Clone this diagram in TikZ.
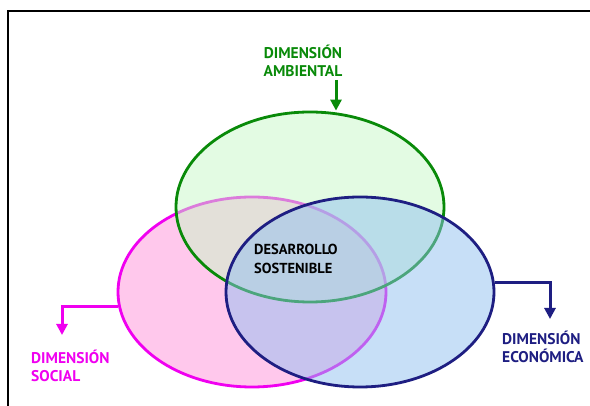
\documentclass[tikz,border=0pt]{standalone}
\usepackage{fontspec}
\setmainfont{PT Sans}
\usetikzlibrary{shapes.geometric,arrows.meta}
\definecolor{gfill}{HTML}{C8F8C8}
\definecolor{pfill}{HTML}{FFC8EC}
\definecolor{bfill}{HTML}{90C0F0}
\definecolor{gline}{HTML}{098A09}
\definecolor{pline}{HTML}{F000F0}
\definecolor{bline}{HTML}{1E1E82}
\tikzset{
  venn/.style={ellipse, minimum width=268pt, minimum height=190pt, inner sep=0pt, line width=2.8pt},
  lbl/.style={font=\bfseries\fontsize{15.5}{18.5}\selectfont, inner sep=0pt},
  conn/.style={line width=3pt, -{Triangle[length=11pt,width=11pt]}}
}
\begin{document}
\begin{tikzpicture}[x=1pt,y=-1pt]
\useasboundingbox (0,0) rectangle (590,406);
\fill[white] (0,0) rectangle (590,406);
\begin{scope}
\clip (0,0) rectangle (590,406);
\draw[line width=2pt] (8,11) rectangle (610,430);
\end{scope}
% ellipses
\node[venn, draw=pline, fill=pfill] (soc) at (252,292) {};
\node[venn, draw=gline, fill=gfill, fill opacity=0.5] (amb) at (310,207) {};
\node[venn, draw=bline, fill=bfill, fill opacity=0.5] (eco) at (360,292) {};
% labels
\node[lbl, text=gline, align=center] (tamb) at (303,61) {DIMENSIÓN\\AMBIENTAL};
\node[lbl, text=pline, align=left, anchor=west] (tsoc) at (31,366) {DIMENSIÓN\\SOCIAL};
\node[lbl, text=bline, align=left, anchor=west] (teco) at (502,347) {DIMENSIÓN\\ECONÓMICA};
\node[lbl, text=black, align=left, anchor=west, font=\bfseries\fontsize{14.5}{18.5}\selectfont] (tds) at (254,259) {DESARROLLO\\SOSTENIBLE};
% connectors
\coordinate (ga) at (336,80);
\coordinate (pa) at (62,335);
\coordinate (ba) at (550,319);
\draw[conn, draw=gline] (ga) -- (ga |- amb.north);
\draw[conn, draw=pline] (soc.186) -| (pa);
\draw[conn, draw=bline] (eco.4) -| (ba);
\end{tikzpicture}
\end{document}
